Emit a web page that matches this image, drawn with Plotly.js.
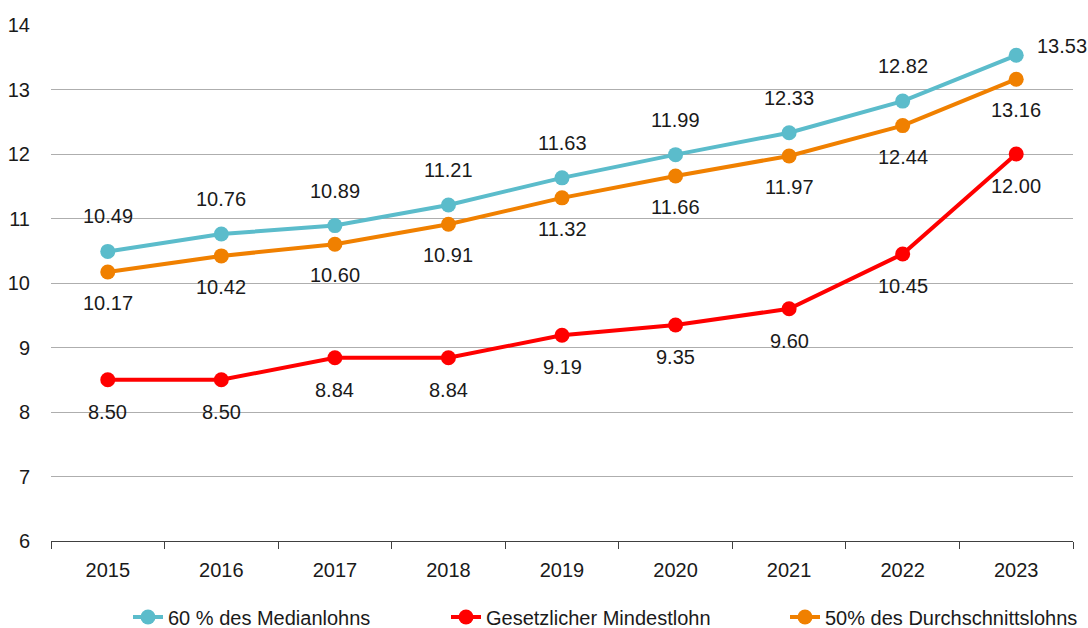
<!DOCTYPE html>
<html><head><meta charset="utf-8">
<script src="https://cdn.plot.ly/plotly-3.0.1.min.js"></script>
<style>body{margin:0;background:#fff}#chart{width:1088px;height:628px}</style>
</head><body><div id="chart"></div>
<script>
const years = ['2015','2016','2017','2018','2019','2020','2021','2022','2023'];
const median60 = [10.49, 10.76, 10.89, 11.21, 11.63, 11.99, 12.33, 12.82, 13.53];
const mindestlohn = [8.50, 8.50, 8.84, 8.84, 9.19, 9.35, 9.60, 10.45, 12.00];
const durchschnitt50 = [10.17, 10.42, 10.60, 10.91, 11.32, 11.66, 11.97, 12.44, 13.16];
const seriesNames = ['60 % des Medianlohns', 'Gesetzlicher Mindestlohn', '50% des Durchschnittslohns'];
const yTicks = [6,7,8,9,10,11,12,13,14];

const xIdx = years.map((_, i) => i);
const FONT = '"Liberation Sans", Arial, sans-serif';
const FS = 20;
const colors = ['#5BBCCB', '#FF0000', '#F08000'];

function trace(y, i, legend) {
  return {x: xIdx, y: y, name: seriesNames[i], type: 'scatter', mode: 'lines+markers',
    line: {color: colors[i], width: 4}, marker: {color: colors[i], size: 15},
    legend: legend, hoverinfo: 'skip'};
}
const data = [
  trace(median60, 0, 'legend'),
  trace(mindestlohn, 1, 'legend2'),
  trace(durchschnitt50, 2, 'legend3')
];

const annotations = [];
function addLabels(vals, shiftFn) {
  vals.forEach((v, k) => {
    const s = shiftFn(k, vals.length);
    annotations.push({x: xIdx[k], y: v, xref: 'x', yref: 'y', text: v.toFixed(2), showarrow: false,
      xshift: s[0], yshift: s[1], font: {family: FONT, size: FS, color: '#1a1a1a'}});
  });
}
addLabels(median60, (k, n) => k === n - 1 ? [46, 9] : [0, 35]);
addLabels(durchschnitt50, () => [0, -31]);
addLabels(mindestlohn, () => [0, -32]);

const legendBase = {orientation: 'h', xref: 'container', yref: 'container', yanchor: 'middle', y: 1 - 617/628, xanchor: 'left',
  font: {family: FONT, size: FS, color: '#1a1a1a'}, bgcolor: 'rgba(0,0,0,0)', itemwidth: 30, tracegroupgap: 0};

const layout = {
  width: 1088, height: 628,
  margin: {l: 51, r: 15, t: 25, b: 87},
  paper_bgcolor: '#fff', plot_bgcolor: '#fff',
  font: {family: FONT, size: FS, color: '#1a1a1a'},
  showlegend: true,
  legend: Object.assign({}, legendBase, {x: 128/1088}),
  legend2: Object.assign({}, legendBase, {x: 446/1088}),
  legend3: Object.assign({}, legendBase, {x: 785/1088}),
  xaxis: {type: 'linear', range: [-0.5, years.length - 0.5], tickmode: 'array', tickvals: xIdx, ticktext: years,
    ticks: '', showline: true, linecolor: '#404040', linewidth: 1, showgrid: false, zeroline: false,
    minor: {tickmode: 'linear', tick0: -0.5, dtick: 1, ticks: 'outside', ticklen: 7, tickcolor: '#404040', showgrid: false},
    ticklabelstandoff: 11, automargin: false,
    tickfont: {family: FONT, size: FS, color: '#1a1a1a'}, fixedrange: true},
  yaxis: {range: [6, 14], tickvals: yTicks, ticktext: yTicks.map(String), showgrid: true, gridcolor: '#AEAEAE', gridwidth: 1,
    zeroline: false, showline: false, ticks: '', ticklabelstandoff: 20, automargin: false,
    tickfont: {family: FONT, size: FS, color: '#1a1a1a'}, fixedrange: true},
  annotations: annotations
};
Plotly.newPlot('chart', data, layout, {staticPlot: true, displayModeBar: false});
</script></body></html>
